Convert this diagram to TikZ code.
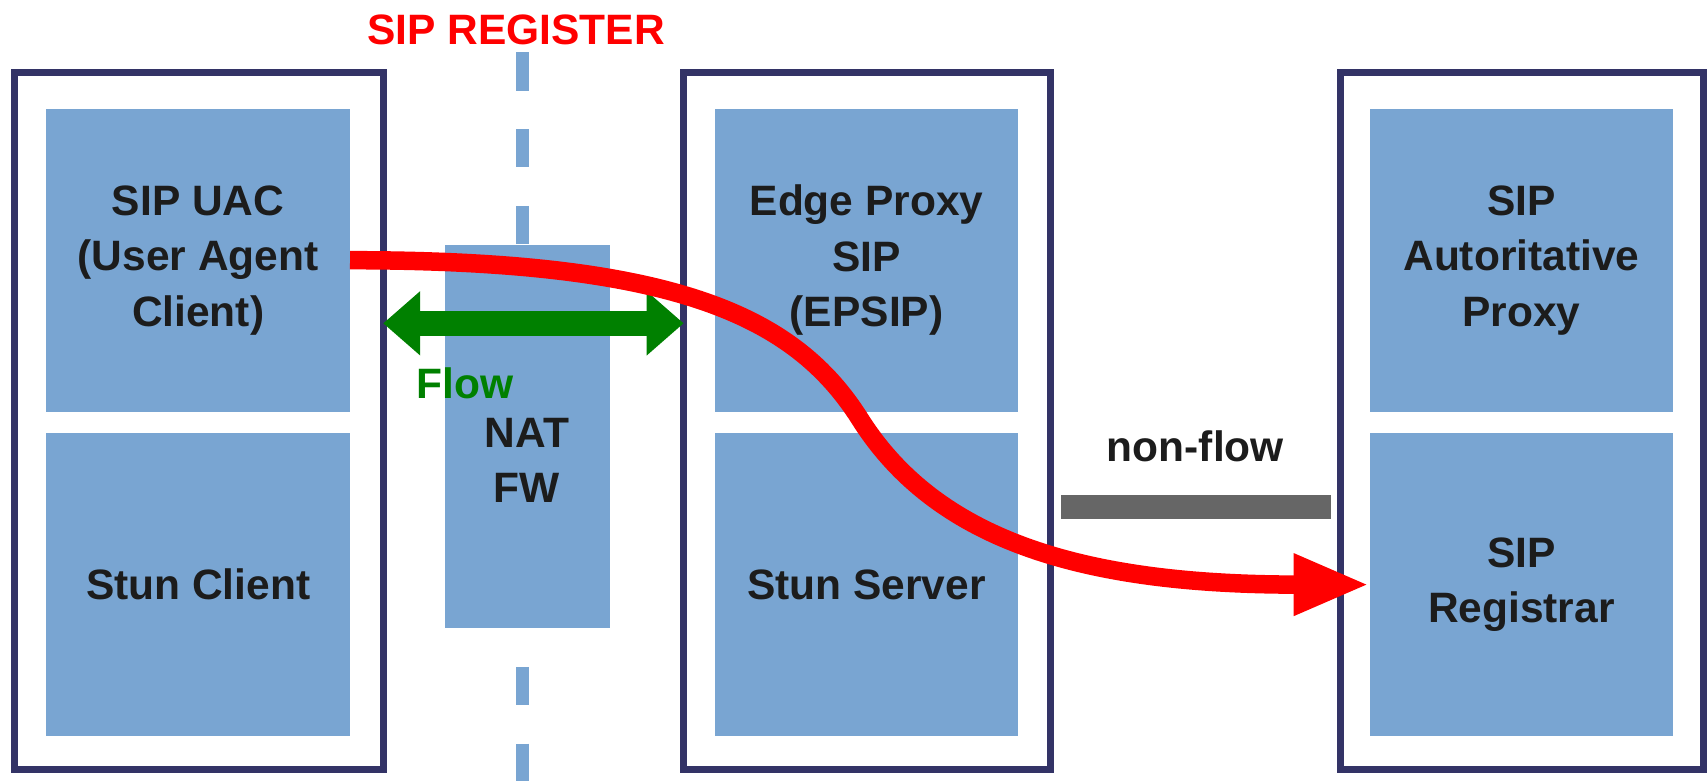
\documentclass[tikz,border=0pt]{standalone}
\usepackage{fontspec}
\setmainfont{Liberation Sans}
\usetikzlibrary{arrows.meta,positioning}

\definecolor{partblue}{RGB}{121,165,210}
\definecolor{hostframe}{RGB}{51,51,102}
\definecolor{flowgreen}{RGB}{0,128,0}
\definecolor{bargray}{RGB}{102,102,102}
\definecolor{inkblack}{RGB}{28,28,28}
\newcommand\pxu{0.01089cm}

\begin{document}
\begin{tikzpicture}[
        x=\pxu, y=-\pxu,
        font=\fontsize{12.1}{15.8}\selectfont\bfseries,
        host/.style={draw=hostframe, line width=6.5*\pxu, fill=white, minimum width=#1*\pxu, minimum height=640*\pxu, inner sep=0pt, outer sep=0pt},
        part/.style={fill=partblue, text=inkblack, minimum width=279*\pxu, minimum height=278*\pxu, inner sep=0pt, outer sep=0pt, align=center},
        natbox/.style={fill=partblue, minimum width=151*\pxu, minimum height=352*\pxu, inner sep=0pt, outer sep=0pt},
        natline/.style={draw=partblue, line width=12*\pxu, dash pattern=on 0.3844cm off 0.3844cm},
        flow/.style={draw=flowgreen, line width=23*\pxu, {Triangle[length=0.37cm, width=0.62cm]}-{Triangle[length=0.37cm, width=0.62cm]}},
        nonflow/.style={draw=bargray, line width=22*\pxu, shorten <=0.109cm, shorten >=0.087cm},
        register/.style={draw=red, line width=17*\pxu, -{Triangle[length=0.76cm, width=0.57cm]}}
    ]
        \useasboundingbox (0,0) rectangle (1568,717);

        % Hosts
        \node[host=339] (uachost) at (182.5,387) {};
        \node[host=337] (edgehost) at (796.5,387) {};
        \node[host=334] (reghost) at (1398,387) {};

        % Top row: SIP elements
        \node[part] (uac) at (182,239) {SIP UAC\\(User Agent\\Client)};
        \node[part] (epsip) at (796,239) {Edge Proxy\\SIP\\(EPSIP)};
        \node[part] (auth) at (1397.5,239) {SIP\\Autoritative\\Proxy};

        % Bottom row: STUN and registrar
        \node[part, below=0.218cm of uac] (stunc) {Stun Client};
        \node[part, below=0.218cm of epsip] (stuns) {Stun Server};
        \node[part, below=0.218cm of auth] (registrar) {SIP\\Registrar};

        % NAT / firewall with its boundary line
        \coordinate (linetop) at (480,48);
        \coordinate (linebot) at (480,717);
        \draw[natline] (linetop) -- (linebot);
        \node[natbox] (nat) at (484.5,401) {};
        \node[text=inkblack, align=center] (natlbl) at (484,423) {NAT\\FW};

        % Labels
        \node[text=red] (reglbl) at (474,27) {SIP REGISTER};
        \node[text=flowgreen] (flowlbl) at (427,352) {Flow};
        \node[text=inkblack] (nonflowlbl) at (1098,410) {non-flow};

        % Links
        \coordinate (flowlvl) at (0,297);
        \coordinate (barlvl) at (0,466);
        \draw[flow] (uachost.east |- flowlvl) -- (edgehost.west |- flowlvl);
        \draw[nonflow] (edgehost.east |- barlvl) -- (reghost.west |- barlvl);

        \draw[register] (uac.east) .. controls (620,239) and (730,290) .. (790,385)
            .. controls (862,499) and (1000,537) .. (registrar.west);
    \end{tikzpicture}
\end{document}
